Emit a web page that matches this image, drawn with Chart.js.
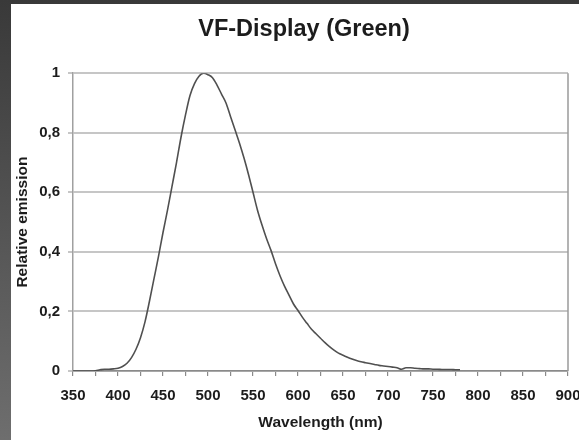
<!DOCTYPE html>
<html>
<head>
<meta charset="utf-8">
<script src="https://cdn.jsdelivr.net/npm/chart.js@4"></script>
<style>
  html, body { margin: 0; padding: 0; }
  body { width: 579px; height: 440px; overflow: hidden; background: linear-gradient(#393939, #6e6e6e); position: relative; }
  #wrap { position: absolute; left: 11px; top: 4px; width: 586px; height: 436px; background: #fff; }
  canvas { display: block; }
</style>
</head>
<body>
<div id="wrap"><canvas id="canvas" width="586" height="436"></canvas></div>
<script>
var wavelengths = [350, 355, 360, 365, 370, 375, 380, 385, 390, 395,
	400, 405, 410, 415, 420, 425, 430, 435, 440, 445,
	450, 455, 460, 465, 470, 475, 480, 485, 490, 495,
	500, 505, 510, 515, 520, 525, 530, 535, 540, 545,
	550, 555, 560, 565, 570, 575, 580, 585, 590, 595,
	600, 605, 610, 615, 620, 625, 630, 635, 640, 645,
	650, 655, 660, 665, 670, 675, 680, 685, 690, 695,
	700, 705, 710, 715, 720, 725, 730, 735, 740, 745,
	750, 755, 760, 765, 770, 775, 780];
var emission = [0, 0, 0, 0, 0, 0.001, 0.004, 0.006, 0.006, 0.007,
	0.009, 0.015, 0.026, 0.045, 0.073, 0.112, 0.165, 0.235, 0.31, 0.385,
	0.465, 0.54, 0.62, 0.70, 0.785, 0.86, 0.925, 0.965, 0.99, 1.0,
	0.995, 0.985, 0.96, 0.93, 0.9, 0.855, 0.81, 0.765, 0.715, 0.66,
	0.6, 0.54, 0.49, 0.445, 0.405, 0.36, 0.32, 0.285, 0.255, 0.225,
	0.203, 0.18, 0.16, 0.14, 0.125, 0.11, 0.095, 0.082, 0.07, 0.06,
	0.053, 0.046, 0.04, 0.035, 0.031, 0.028, 0.025, 0.022, 0.019, 0.017,
	0.015, 0.013, 0.011, 0.006, 0.011, 0.011, 0.009, 0.008, 0.007, 0.007,
	0.006, 0.006, 0.005, 0.005, 0.005, 0.004, 0.004];
var xTicks = [350, 400, 450, 500, 550, 600, 650, 700, 750, 800, 850, 900];
var yTicks = [0, 0.2, 0.4, 0.6, 0.8, 1];

var FONT = '"Liberation Sans", Arial, sans-serif';
var TEXT = '#1c1c1c';

var points = wavelengths.map(function(w, i) {
	return {x: w, y: emission[i]};
});

// right edge of the plot frame
var frameRight = {
	id: 'frameRight',
	afterDraw: function(chart) {
		var a = chart.chartArea;
		var ctx = chart.ctx;
		ctx.save();
		ctx.strokeStyle = '#9a9a9a';
		ctx.lineWidth = 1.5;
		ctx.beginPath();
		ctx.moveTo(a.right, a.top);
		ctx.lineTo(a.right, a.bottom);
		ctx.stroke();
		ctx.restore();
	}
};

window.onload = function() {
	var ctx = document.getElementById('canvas').getContext('2d');
	window.myChart = new Chart(ctx, {
		type: 'line',
		data: {
			datasets: [{
				label: 'VF-Display (Green)',
				data: points,
				borderColor: '#505050',
				borderWidth: 1.6,
				pointRadius: 0,
				fill: false,
				cubicInterpolationMode: 'monotone'
			}]
		},
		options: {
			responsive: false,
			animation: false,
			layout: {padding: 0},
			plugins: {
				legend: {display: false},
				tooltip: {enabled: false},
				title: {
					display: true,
					text: 'VF-Display (Green)',
					color: TEXT,
					font: {family: FONT, size: 23.5, weight: 'bold'},
					padding: {top: 11, bottom: 30}
				}
			},
			scales: {
				x: {
					type: 'linear',
					min: 350,
					max: 900,
					afterFit: function(s) { s.height = 69; s.paddingRight = 29; s.paddingLeft = 0; },
					ticks: {
						stepSize: 25,
						autoSkip: false,
						maxRotation: 0,
						padding: 11,
						color: TEXT,
						font: {family: FONT, size: 15, weight: 'bold'},
						callback: function(v) { return xTicks.indexOf(v) >= 0 ? String(v) : ''; }
					},
					grid: {drawOnChartArea: false, tickLength: 5, color: '#8a8a8a', lineWidth: 1.2},
					border: {color: '#8a8a8a', width: 1.5},
					title: {
						display: true,
						text: 'Wavelength (nm)',
						color: TEXT,
						font: {family: FONT, size: 15.5, weight: 'bold'},
						padding: {top: 0, bottom: 8}
					}
				},
				y: {
					min: 0,
					max: 1,
					afterFit: function(s) { s.width = 62; },
					afterBuildTicks: function(s) {
						s.ticks = yTicks.map(function(v) { return {value: v}; });
					},
					ticks: {
						padding: 8,
						color: TEXT,
						font: {family: FONT, size: 15, weight: 'bold'},
						callback: function(v) { return String(Math.round(v * 10) / 10).replace('.', ','); }
					},
					grid: {color: '#c6c6c6', lineWidth: 2, tickLength: 5},
					border: {color: '#a0a0a0', width: 1.5},
					title: {
						display: true,
						text: 'Relative emission',
						color: TEXT,
						font: {family: FONT, size: 15.5, weight: 'bold'},
						padding: {top: 2, bottom: 0}
					}
				}
			}
		},
		plugins: [frameRight]
	});
};
</script>
</body>
</html>
